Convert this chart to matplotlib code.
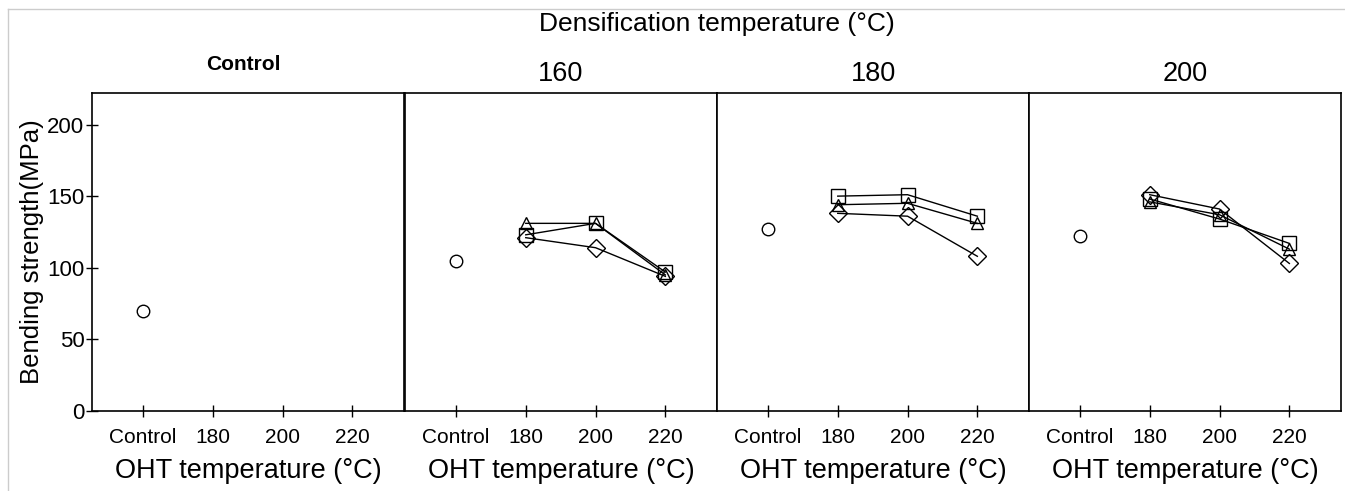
import matplotlib.pyplot as plt
from matplotlib.lines import Line2D

plt.rcParams['font.family'] = ['Liberation Sans', 'DejaVu Sans']

oht_labels = ["Control", "180", "200", "220"]
panel_titles = ["Control", "160", "180", "200"]
control_vals = [70, 105, 127, 122]

# densified panels (160, 180, 200) -> values at OHT 180, 200, 220
square_vals = [[123, 131, 97], [150, 151, 136], [148, 134, 117]]
triangle_vals = [[131, 131, 95], [144, 145, 131], [146, 137, 113]]
diamond_vals = [[121, 114, 94], [138, 136, 108], [151, 141, 103]]

W, H = 1345, 491
fig = plt.figure(figsize=(W / 100, H / 100), dpi=100)

# light frame around the figure
fig.add_artist(Line2D([8 / W, 8 / W], [0, 1 - 9 / H], color='#cccccc', lw=1))
fig.add_artist(Line2D([8 / W, 1], [1 - 9 / H, 1 - 9 / H], color='#cccccc', lw=1))

left_px = [92, 405, 717, 1029]
pw = 312
top_px, bot_px = 93, 411
axes = []
for i in range(4):
    ax = fig.add_axes([left_px[i] / W, 1 - bot_px / H, pw / W, (bot_px - top_px) / H])
    axes.append(ax)
    ax.set_xlim(-0.73, 3.74)
    ax.set_ylim(0, 222)
    ax.set_xticks(range(4))
    ax.set_xticklabels(oht_labels, fontsize=15)
    ax.tick_params(axis='x', direction='inout', length=9, width=1, pad=8)
    for s in ax.spines.values():
        s.set_linewidth(1.2)
    if i == 0:
        ax.set_yticks([0, 50, 100, 150, 200])
        ax.tick_params(axis='y', direction='inout', length=9, width=1, labelsize=16, pad=1)
    else:
        ax.set_yticks([])
    ax.set_xlabel("OHT temperature (°C)", fontsize=19.5, labelpad=8)

    # control point
    ax.plot([0], [control_vals[i]], marker='o', ms=9, mfc='none', mec='black',
            mew=1, ls='none')
    if i > 0:
        x = [1, 2, 3]
        ax.plot(x, square_vals[i - 1], marker='s', ms=10, mfc='none', mec='black',
                color='black', lw=1, mew=1)
        ax.plot(x, triangle_vals[i - 1], marker='^', ms=9, mfc='none', mec='black',
                color='black', lw=1, mew=1)
        ax.plot(x, diamond_vals[i - 1], marker='D', ms=9, mfc='none', mec='black',
                color='black', lw=1, mew=1)

axes[0].set_ylabel("Bending strength(MPa)", fontsize=18.5, labelpad=2)

# panel titles
fig.text(243 / W, 1 - 64 / H, panel_titles[0], fontsize=15, fontweight='bold',
         ha='center', va='center')
for i in range(1, 4):
    cx = (left_px[i] + pw / 2) / W
    fig.text(cx, 1 - 74 / H, panel_titles[i], fontsize=19.5, ha='center', va='center')

fig.text(717 / W, 1 - 24 / H, "Densification temperature (°C)", fontsize=19,
         ha='center', va='center')

fig.savefig("out.png", dpi=100)
